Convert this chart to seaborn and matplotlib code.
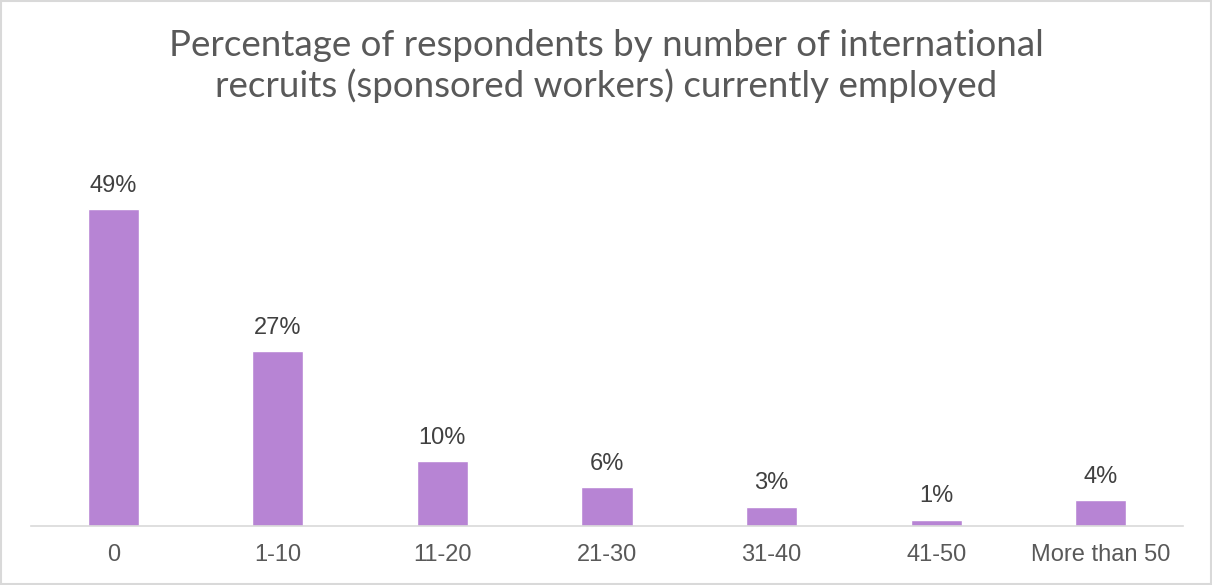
import matplotlib
matplotlib.use("Agg")
import matplotlib.pyplot as plt
import seaborn as sns
import pandas as pd
from matplotlib.patches import Rectangle

categories = ["0", "1-10", "11-20", "21-30", "31-40", "41-50", "More than 50"]
percentages = [49, 27, 10, 6, 3, 1, 4]

title_text = "Percentage of respondents by number of international\nrecruits (sponsored workers) currently employed"

sns.set_theme(style="white")
plt.rcParams["font.family"] = ["Liberation Sans", "DejaVu Sans"]

df = pd.DataFrame({"band": categories, "pct": percentages})

fig = plt.figure(figsize=(12.12, 5.85), dpi=100)
ax = fig.add_axes([31 / 1212, 1 - 526 / 585, 1152 / 1212, 388 / 585])

sns.barplot(data=df, x="band", y="pct", order=categories, color="#B784D4",
            saturation=1, width=0.31, ax=ax)

ax.set_xlim(-0.5, len(categories) - 0.5)
ax.set_ylim(0, 60)
ax.set_xlabel("")
ax.set_ylabel("")
ax.set_yticks([])
for side in ["top", "right", "left"]:
    ax.spines[side].set_visible(False)
ax.spines["bottom"].set_color("#D9D9D9")
ax.spines["bottom"].set_linewidth(1.2)
ax.tick_params(axis="x", length=0, pad=13, labelsize=17, labelcolor="#595959")

for bar, val in zip(ax.patches, percentages):
    ax.annotate(f"{val}%", (bar.get_x() + bar.get_width() / 2, bar.get_height()),
                xytext=(0, 9), textcoords="offset points",
                ha="center", va="bottom", fontsize=17, color="#404040")

fig.text(0.5, 1 - 66 / 585, title_text, ha="center", va="center",
         fontsize=26.5, color="#595959", family=["Lato", "DejaVu Sans"],
         linespacing=1.2)

fig.patches.append(Rectangle((1 / 1212, 1 / 585), 1 - 2 / 1212, 1 - 2 / 585,
                             transform=fig.transFigure, fill=False,
                             edgecolor="#D9D9D9", linewidth=1.5))

fig.savefig("out.png", dpi=100, facecolor="white")
